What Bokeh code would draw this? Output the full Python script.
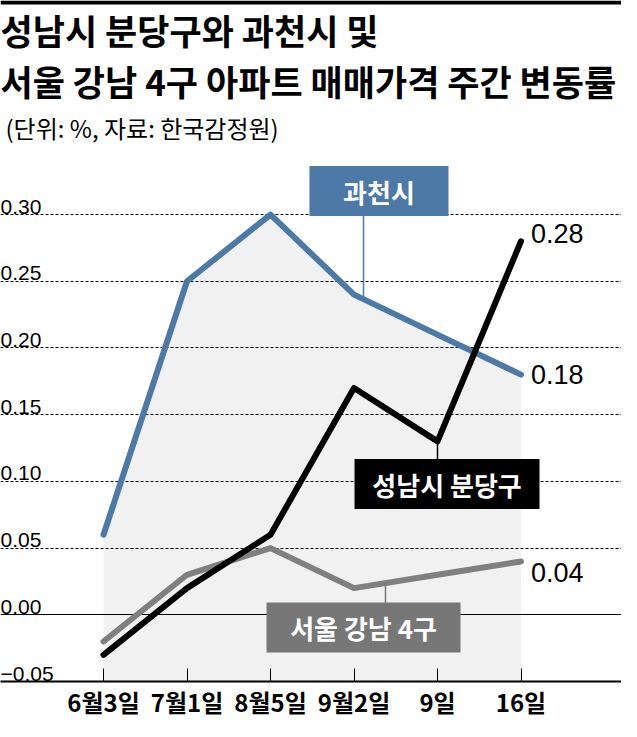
import numpy as np
from bokeh.plotting import figure
from bokeh.models import Range1d, FixedTicker, Grid, Label, BoxAnnotation
from bokeh.core.properties import value
from bokeh.embed import file_html
from bokeh.resources import INLINE

# ---------------- data ----------------
dates = ["6월3일", "7월1일", "8월5일", "9월2일", "9일", "16일"]
gwacheon = [0.06, 0.25, 0.30, 0.24, 0.21, 0.18]      # 과천시
bundang = [-0.03, 0.02, 0.06, 0.17, 0.13, 0.28]      # 성남시 분당구
gangnam = [-0.02, 0.03, 0.05, 0.02, 0.03, 0.04]      # 서울 강남 4구
series_names = ["과천시", "성남시 분당구", "서울 강남 4구"]
y_ticks = [-0.05, 0.00, 0.05, 0.10, 0.15, 0.20, 0.25, 0.30]
y_tick_labels = ["−0.05", "0.00", "0.05", "0.10", "0.15", "0.20", "0.25", "0.30"]
title_lines = ["성남시 분당구와 과천시 및", "서울 강남 4구 아파트 매매가격 주간 변동률"]
subtitle = "(단위: %, 자료: 한국감정원)"

# ---------------- layout ----------------
W, H = 621, 721
FRAME_H = 684          # expected frame height (axis below takes the rest)
X0_PX, DX = 103, 83.5  # pixel of first category, pixels per category
Y0_PX, PPU = 617, 1340  # pixel (from top) of value 0, pixels per unit

x_start = -X0_PX / DX
x_end = (W - X0_PX) / DX
y_start = -(FRAME_H - Y0_PX) / PPU
y_end = Y0_PX / PPU

KFONT = "Noto Sans CJK KR"
NFONT = "Liberation Sans"

BLUE = "#4c79a5"
GRAY_LINE = "#808080"
GRAY_BOX = "#777777"
BLACK = "#000000"
SHADE = "#f1f1f1"

xs = list(range(len(dates)))

p = figure(width=W, height=H, x_range=Range1d(x_start, x_end),
           y_range=Range1d(y_start, y_end), output_backend="svg",
           toolbar_location=None, y_axis_location=None, min_border=0,
           outline_line_color=None, background_fill_color="white",
           border_fill_color="white")

# grid
p.xgrid.visible = False
p.ygrid.ticker = FixedTicker(ticks=[t for t in y_ticks if t > 0])
p.ygrid.grid_line_color = "black"
p.ygrid.grid_line_width = 1
p.ygrid.grid_line_dash = "3 2"
zero_grid = Grid(dimension=1, ticker=FixedTicker(ticks=[0.0]),
                 grid_line_color="black", grid_line_width=1)
p.add_layout(zero_grid)

# x axis
ax = p.xaxis[0]
ax.ticker = FixedTicker(ticks=xs)
ax.major_label_overrides = {i: d for i, d in enumerate(dates)}
ax.axis_line_width = 2
ax.axis_line_color = "black"
ax.major_tick_in = 13
ax.major_tick_out = 0
ax.major_tick_line_width = 1
ax.minor_tick_in = 0
ax.minor_tick_out = 0
ax.major_label_standoff = 2
ax.major_label_text_font = KFONT
ax.major_label_text_font_style = "bold"
ax.major_label_text_font_size = "24px"
ax.major_label_text_color = "black"

# top black rule
p.add_layout(BoxAnnotation(bottom=y_end - 4 / PPU, top=y_end,
                           fill_color="black", fill_alpha=1, line_color=None))

# shaded area under 과천시
p.varea(x=xs, y1=y_start, y2=gwacheon, fill_color=SHADE, level="image")

# y tick labels inside the plot
p.text(x=x_start, y=y_ticks, text=y_tick_labels, x_offset=0, y_offset=-8,
       text_font=value(NFONT), text_font_size="21px", text_color="black",
       text_align="left", text_baseline="alphabetic")

# series config: (values, line colour, box colour, box centre idx, box centre value,
#                 box w, box h, leader x idx, leader to top(+1)/bottom(-1) edge, end label dy)
series = [
    (gangnam, GRAY_LINE, GRAY_BOX, 3.114, -0.0096, 194, 50, 3.377, +1, 11),
    (gwacheon, BLUE, BLUE, 3.299, 0.3176, 139, 50, 3.114, -1, 0),
    (bundang, BLACK, BLACK, 4.114, 0.098, 185, 50, 4.0, +1, -8),
]
name_for = {id(gwacheon): series_names[0], id(bundang): series_names[1],
            id(gangnam): series_names[2]}

for vals, lc, bc, bx, by, bw, bh, lx, edge, dy in series:
    p.line(xs, vals, line_color=lc, line_width=6, line_cap="round",
           line_join="round")

for vals, lc, bc, bx, by, bw, bh, lx, edge, dy in series:
    ly = float(np.interp(lx, xs, vals))
    ey = by + edge * (bh / 2) / PPU
    p.segment(x0=[lx], y0=[ly], x1=[lx], y1=[ey], line_color=bc, line_width=1.5)
    p.rect(x=[bx], y=[by], width=bw, height=bh, width_units="screen",
           height_units="screen", fill_color=bc, line_color=None)
    p.text(x=[bx], y=[by], text=[name_for[id(vals)]], text_font=value(KFONT),
           text_font_style="bold", text_font_size="26px", text_color="white",
           text_align="center", text_baseline="middle")
    p.text(x=[xs[-1]], y=[vals[-1]], text=[f"{vals[-1]:.2f}"], x_offset=10,
           y_offset=dy, text_font=value(NFONT), text_font_size="27px",
           text_color="black", text_align="left", text_baseline="middle")

# titles
p.add_layout(Label(x=0, y=FRAME_H - 31.5, x_units="screen", y_units="screen",
                   text=title_lines[0], text_font=KFONT, text_font_style="bold",
                   text_font_size="35px", text_color="black",
                   text_baseline="middle", text_align="left"))
p.add_layout(Label(x=0, y=FRAME_H - 83, x_units="screen", y_units="screen",
                   text=title_lines[1], text_font=KFONT, text_font_style="bold",
                   text_font_size="35px", text_color="black",
                   text_baseline="middle", text_align="left"))
p.add_layout(Label(x=5, y=FRAME_H - 130, x_units="screen", y_units="screen",
                   text=subtitle, text_font=KFONT, text_font_style="normal",
                   text_font_size="24px", text_color="black",
                   text_baseline="middle", text_align="left"))

open("out.html", "w").write(file_html(p, INLINE))
